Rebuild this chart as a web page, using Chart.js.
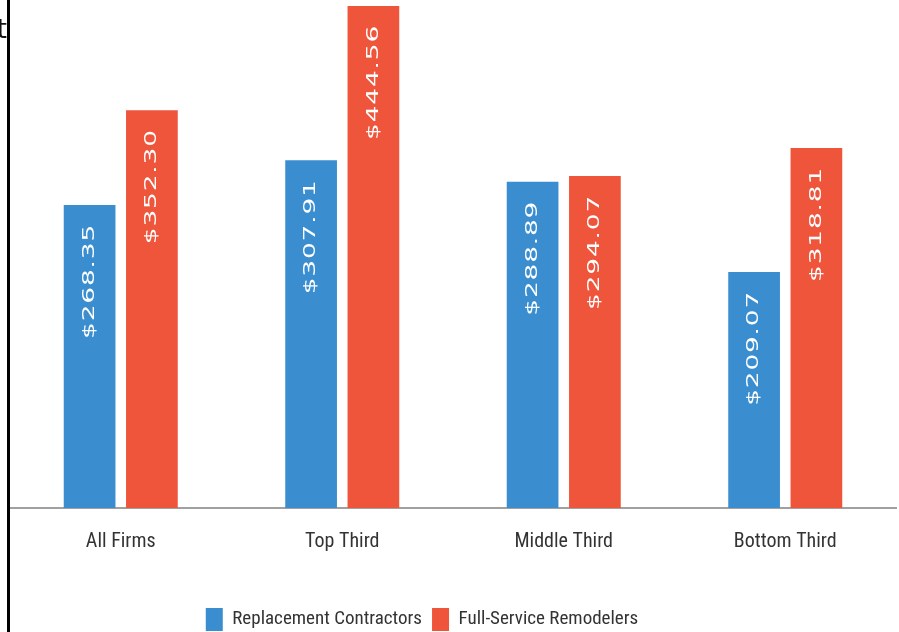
<!DOCTYPE html>
<html>
<head>
<meta charset="utf-8">
<script src="https://cdn.jsdelivr.net/npm/chart.js@4/dist/chart.umd.min.js"></script>
<style>
  html, body { margin: 0; padding: 0; background: #fff; }
  #wrap { position: relative; width: 899px; height: 632px; overflow: hidden; }
  #edge { position: absolute; left: 7px; top: 0; width: 3px; height: 632px; background: #000; }
  #cut { position: absolute; right: 892px; top: 14px; font: 26px "DejaVu Sans", sans-serif; color: #111; }
  canvas { position: absolute; left: 0; top: 0; }
</style>
</head>
<body>
<div id="wrap">
  <canvas id="chart" width="899" height="632"></canvas>
  <div id="edge"></div>
  <div id="cut">t</div>
</div>
<script>
// revenue per hour, by firm group
const categories = ['All Firms', 'Top Third', 'Middle Third', 'Bottom Third'];
const replacementContractors = [268.35, 307.91, 288.89, 209.07];
const fullServiceRemodelers = [352.30, 444.56, 294.07, 318.81];

const BLUE = '#3a8ed0';
const RED = '#ee553b';
const CONDENSED = '"Liberation Sans Narrow", "Roboto Condensed", Roboto, sans-serif';

// white rotated dollar labels inside the top of each bar
const barLabels = {
    id: 'barLabels',
    afterDatasetsDraw(chart) {
        const ctx = chart.ctx;
        chart.data.datasets.forEach((ds, i) => {
            const meta = chart.getDatasetMeta(i);
            meta.data.forEach((bar, j) => {
                ctx.save();
                ctx.translate(bar.x, bar.y + 19);
                ctx.rotate(-Math.PI / 2);
                ctx.scale(1.65, 1);
                ctx.font = '16px "DejaVu Sans", sans-serif';
                ctx.letterSpacing = '0.5px';
                ctx.fillStyle = '#fff';
                ctx.textAlign = 'right';
                ctx.textBaseline = 'middle';
                ctx.fillText('$' + ds.data[j].toFixed(2), 0, 0);
                ctx.restore();
            });
        });
    }
};

// nudge the legend a bit left and down, like the original
const legendNudge = {
    id: 'legendNudge',
    afterLayout(chart) {
        const lg = chart.legend;
        lg.left -= 31; lg.right -= 31;
        lg.top += 9; lg.bottom += 9;
    }
};

new Chart(document.getElementById('chart'), {
    type: 'bar',
    data: {
        labels: categories,
        datasets: [
            { label: 'Replacement Contractors', data: replacementContractors, backgroundColor: BLUE },
            { label: 'Full-Service Remodelers', data: fullServiceRemodelers, backgroundColor: RED }
        ]
    },
    options: {
        responsive: false,
        animation: false,
        categoryPercentage: 0.5625,
        barPercentage: 0.83,
        layout: { padding: { left: 10, right: 3, top: 6, bottom: 0 } },
        plugins: {
            legend: {
                position: 'bottom',
                labels: {
                    boxWidth: 17,
                    boxHeight: 23,
                    padding: 10,
                    color: '#333',
                    font: { family: CONDENSED, size: 19 }
                }
            },
            tooltip: { enabled: false }
        },
        scales: {
            x: {
                grid: { display: false },
                border: { display: true, color: '#a0a0a0', width: 2 },
                ticks: {
                    padding: 14,
                    color: '#333',
                    font: { family: CONDENSED, size: 20 }
                },
                afterFit: (s) => { s.height = 81; }
            },
            y: {
                display: false,
                min: 0,
                max: 444.56
            }
        }
    },
    plugins: [barLabels, legendNudge]
});
</script>
</body>
</html>
